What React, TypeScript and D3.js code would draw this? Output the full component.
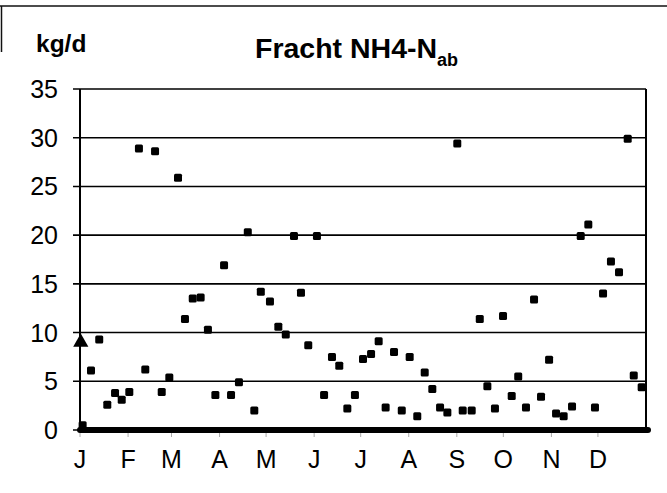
import React from "react";
import * as d3 from "d3";

// day of year and load in kg/d
const days = [
  1.7, 7.1, 12.4, 17.6, 22.6, 26.9, 31.8, 38.0, 42.1, 48.4, 52.7, 57.6, 63.2,
  67.7, 72.7, 77.8, 82.5, 87.3, 92.9, 97.4, 102.5, 108.2, 112.4, 116.6, 122.5,
  127.9, 132.7, 138.0, 142.5, 147.2, 152.8, 157.4, 162.5, 167.2, 172.4, 177.3,
  182.5, 187.7, 192.6, 197.1, 202.5, 207.5, 212.6, 217.5, 222.3, 227.2, 232.2,
  236.9, 243.3, 246.8, 252.6, 257.8, 262.7, 267.6, 272.8, 278.4, 282.6, 287.6,
  292.8, 297.3, 302.5, 307.0, 311.9, 317.3, 322.9, 327.8, 332.1, 337.3, 342.4,
  347.6, 353.2, 357.1, 362.2
];
const loads = [
  0.5, 6.1, 9.3, 2.6, 3.8, 3.1, 3.9, 28.9, 6.2, 28.6, 3.9, 5.4, 25.9,
  11.4, 13.5, 13.6, 10.3, 3.6, 16.9, 3.6, 4.9, 20.3, 2.0, 14.2, 13.2,
  10.6, 9.8, 19.9, 14.1, 8.7, 19.9, 3.6, 7.5, 6.6, 2.2, 3.6,
  7.3, 7.8, 9.1, 2.3, 8.0, 2.0, 7.5, 1.4, 5.9, 4.2, 2.3,
  1.8, 29.4, 2.0, 2.0, 11.4, 4.5, 2.2, 11.7, 3.5, 5.5, 2.3,
  13.4, 3.4, 7.2, 1.7, 1.4, 2.4, 19.9, 21.1, 2.3, 14.0, 17.3,
  16.2, 29.9, 5.6, 4.4
];
// second series: one triangle at start of year
const triDays = [0.5];
const triLoads = [9.0];

const monthLabels = ["J", "F", "M", "A", "M", "J", "J", "A", "S", "O", "N", "D"];
const monthStarts = [0, 31, 59, 90, 120, 151, 181, 212, 243, 273, 304, 334];
const yTicks = [0, 5, 10, 15, 20, 25, 30, 35];

const W = 667;
const H = 493;
const margin = { left: 80, right: 21, top: 89, bottom: 63 };
const font = "'Liberation Sans', Arial, Helvetica, sans-serif";

export default function App() {
  const plotW = W - margin.left - margin.right;
  const plotH = H - margin.top - margin.bottom;

  const x = d3.scaleLinear().domain([0, 365]).range([0, plotW]);
  const y = d3.scaleLinear().domain([0, 35]).range([plotH, 0]);

  const tri = d3.symbol().type(d3.symbolTriangle).size(100)();

  return (
    <svg
      width={W}
      height={H}
      style={{ position: "absolute", left: 0, top: 0, background: "#fff" }}
    >
      {/* scan frame */}
      <line x1={0} x2={W} y1={6} y2={6} stroke="#111" strokeWidth={1.5} />
      <line x1={1.5} x2={1.5} y1={6} y2={52} stroke="#111" strokeWidth={1.5} />

      <text x={36} y={52} fontFamily={font} fontWeight="bold" fontSize={24.5}>
        kg/d
      </text>
      <text x={255} y={58} fontFamily={font} fontWeight="bold" fontSize={28.5}>
        Fracht NH4-N
        <tspan fontSize={18} dy={8}>
          ab
        </tspan>
      </text>

      <g transform={`translate(${margin.left},${margin.top})`}>
        {yTicks.map(t => (
          <g key={t}>
            <line x1={-7} x2={plotW} y1={y(t)} y2={y(t)} stroke="#000" strokeWidth={1.6} />
            <text
              x={-22}
              y={y(t)}
              dy="0.36em"
              textAnchor="end"
              fontFamily={font}
              fontSize={25}
            >
              {t}
            </text>
          </g>
        ))}
        <line x1={0} x2={0} y1={0} y2={plotH} stroke="#000" strokeWidth={2} />
        <line x1={plotW} x2={plotW} y1={0} y2={plotH} stroke="#000" strokeWidth={2} />

        {monthStarts.map((m, i) => (
          <g key={i}>
            <line x1={x(m)} x2={x(m)} y1={plotH} y2={plotH + 7} stroke="#aaa" strokeWidth={1} />
            <text
              x={x(m)}
              y={plotH + 38}
              textAnchor="middle"
              fontFamily={font}
              fontSize={25}
            >
              {monthLabels[i]}
            </text>
          </g>
        ))}

        {/* zero series drawn as thick line */}
        <line
          x1={x(0)}
          x2={x(365) + 2}
          y1={y(0)}
          y2={y(0)}
          stroke="#000"
          strokeWidth={6}
          strokeLinecap="round"
        />

        {days.map((d, i) => (
          <rect
            key={i}
            x={x(d) - 4}
            y={y(loads[i]) - 4}
            width={8}
            height={8}
            rx={1.5}
            fill="#000"
          />
        ))}

        {triDays.map((d, i) => (
          <path
            key={i}
            d={tri}
            transform={`translate(${x(d)},${y(triLoads[i])})`}
            fill="#000"
          />
        ))}
      </g>
    </svg>
  );
}
